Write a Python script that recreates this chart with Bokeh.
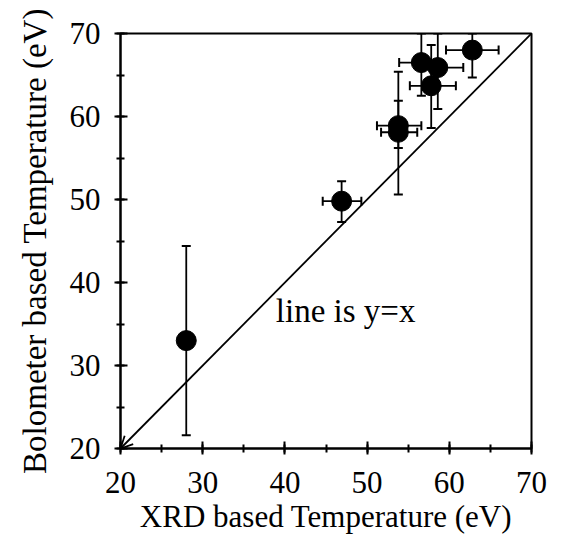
from bokeh.plotting import figure
from bokeh.models import ColumnDataSource, Whisker, TeeHead, SingleIntervalTicker, Range1d, Arrow, OpenHead
from bokeh.core.properties import value
from bokeh.embed import file_html
from bokeh.resources import INLINE

# data
xrd_T = [28.0, 46.9, 53.8, 53.8, 56.6, 58.6, 57.8, 62.8]
bolo_T = [33.0, 49.8, 58.9, 58.1, 66.5, 65.9, 63.7, 68.0]
xrd_lo = [27.3, 44.6, 51.2, 51.7, 53.9, 56.8, 55.2, 59.6]
xrd_hi = [28.6, 49.3, 56.6, 56.1, 58.5, 61.7, 60.8, 66.0]
bolo_lo = [21.6, 47.3, 56.2, 50.6, 62.5, 60.9, 58.6, 64.7]
bolo_hi = [44.4, 52.2, 65.4, 61.9, 70.0, 70.0, 68.6, 70.0]
diag = [70, 20]
note_text = ["line is y=x"]
note_x = [38.9]
note_y = [36.6]

FONT = "Liberation Serif"

p = figure(width=555, height=536, output_backend="svg", toolbar_location=None,
           x_range=Range1d(20, 70), y_range=Range1d(20, 70),
           min_border_left=120, min_border_right=24, min_border_top=33, min_border_bottom=84)
p.background_fill_color = "white"
p.border_fill_color = "white"
p.xgrid.visible = False
p.ygrid.visible = False
p.outline_line_color = "black"
p.outline_line_width = 2
p.outline_line_alpha = 1

for ax in (p.xaxis, p.yaxis):
    ax.ticker = SingleIntervalTicker(interval=10, num_minor_ticks=2)
    ax.axis_line_width = 2
    ax.axis_line_color = "black"
    ax.major_tick_in = 7
    ax.major_tick_out = 6
    ax.minor_tick_in = 4
    ax.minor_tick_out = 4
    ax.major_tick_line_width = 2
    ax.minor_tick_line_width = 2
    ax.major_label_text_font = FONT
    ax.major_label_text_font_size = "31px"
    ax.major_label_text_color = "black"
    ax.axis_label_text_font = FONT
    ax.axis_label_text_font_style = "normal"
    ax.axis_label_text_color = "black"

p.xaxis.axis_label = "XRD based Temperature (eV)"
p.yaxis.axis_label = "Bolometer based Temperature (eV)"
p.xaxis.axis_label_text_font_size = "31px"
p.yaxis.axis_label_text_font_size = "33px"
p.xaxis.major_label_standoff = 17
p.xaxis.axis_label_standoff = 3
p.yaxis.major_label_standoff = 14
p.yaxis.axis_label_standoff = 14
p.yaxis.major_label_orientation = "horizontal"

# y = x line, with an arrow head at the origin corner
p.add_layout(Arrow(x_start=diag[0], y_start=diag[0], x_end=diag[1], y_end=diag[1],
                   line_color="black", line_width=1.8,
                   end=OpenHead(size=12, line_width=1.8, line_color="black")))

src = ColumnDataSource(dict(x=xrd_T, y=bolo_T, xlo=xrd_lo, xhi=xrd_hi, ylo=bolo_lo, yhi=bolo_hi))

wy = Whisker(source=src, base="x", lower="ylo", upper="yhi", dimension="height",
             line_color="black", line_width=1.8,
             upper_head=TeeHead(size=9, line_width=2, line_color="black"),
             lower_head=TeeHead(size=9, line_width=2, line_color="black"))
wx = Whisker(source=src, base="y", lower="xlo", upper="xhi", dimension="width",
             line_color="black", line_width=1.8,
             upper_head=TeeHead(size=9, line_width=2, line_color="black"),
             lower_head=TeeHead(size=9, line_width=2, line_color="black"))
p.add_layout(wy)
p.add_layout(wx)

p.scatter("x", "y", source=src, size=20, fill_color="black", line_color="black")

p.text(x=note_x, y=note_y, text=note_text, text_font=value(FONT), text_font_size="33px",
       text_color="black", text_baseline="middle", text_align="left")

open("out.html", "w").write(file_html(p, INLINE))
